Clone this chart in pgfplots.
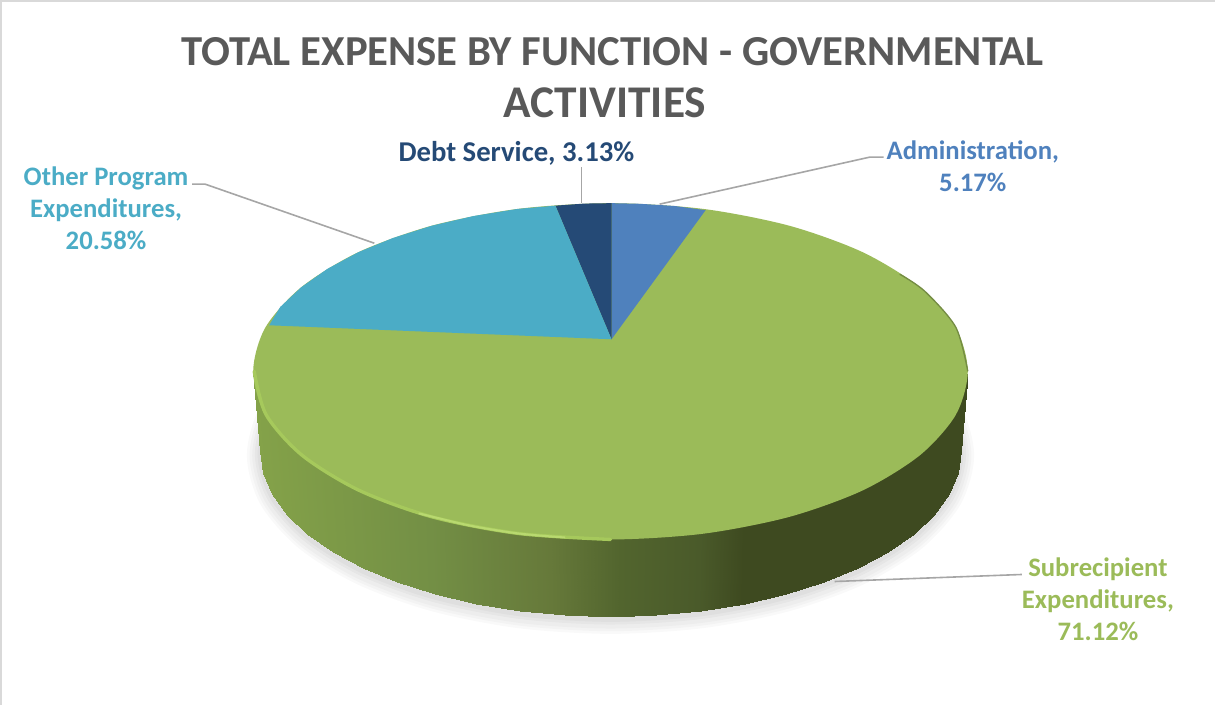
\documentclass[border=0pt]{standalone}
\usepackage{fontspec}
\setmainfont{Carlito}
\usepackage{pgfplots}
\usepackage{pgfplotstable}
\pgfplotsset{compat=1.18}

\definecolor{cadmin}{HTML}{4F81BD}
\definecolor{cgreen}{HTML}{9BBB59}
\definecolor{cother}{HTML}{4BACC6}
\definecolor{cdebt}{HTML}{254A76}
\definecolor{ctitle}{HTML}{595959}
\definecolor{clead}{HTML}{A6A6A6}
\definecolor{crim}{HTML}{A6C95C}
\definecolor{crimhi}{HTML}{B9D970}

% outlines, in pixels
\pgfplotstableread{
x y
968 372
956 415.5
920 456
863 491
789.5 517.5
703.4 534.3
611 540
518.6 534.3
432.5 517.5
359 491
302 456
266 415.5
254 372
266 328.5
302 288
359 253
432.5 226.5
518.6 209.7
611 204
703.4 209.7
789.5 226.5
863 253
920 288
956 328.5
}\toprim

\pgfplotstableread{
x y
961 452
949 494.7
914 534.5
858.5 568.7
786 594.9
701.6 611.4
611 617
520.4 611.4
436 594.9
363.5 568.7
308 534.5
273 494.7
261 452
273 409
308 370
363.5 335
436 309
520.4 292.6
611 287
701.6 292.6
786 309
858.5 335
914 370
949 409
}\bottomrim

% side of the pie: upper row, then lower row; c runs along the colormap
\pgfplotstableread{
x y c
254 372 254
257.2 389 257
266 410.5 266
281.1 431.3 281
302 451 302
327.9 469.3 328
358.6 485.8 359
393.6 500.2 394
432.5 512.5 432
474.3 522.2 474
518.6 529.3 519
564.2 533.5 564
611 535 611
657.8 533.5 658
703.4 529.3 703
747.7 522.2 748
789.5 512.5 790
828.4 500.2 828
863.4 485.8 863
894.1 469.3 894
920 451 920
940.9 431.3 941
956 410.5 956
964.8 389 965
968 372 968
261 452 254
264.1 473.6 257
273 494.7 266
287.6 515.2 281
308 534.5 302
333.4 552.5 328
363.5 568.7 359
397.8 582.8 394
436 594.9 432
476.9 604.5 474
520.4 611.4 519
565.1 615.5 564
611 617 611
656.9 615.5 658
701.6 611.4 703
745.1 604.5 748
786 594.9 790
824.2 582.8 828
858.5 568.7 863
888.6 552.5 894
914 534.5 920
934.4 515.2 941
949 494.7 956
957.9 473.6 965
961 452 968
}\sidemesh

\begin{document}
\begin{tikzpicture}
\begin{axis}[
  scale only axis,
  width=911.25pt,
  height=531pt,
  xmin=0, xmax=1215,
  ymin=-3, ymax=705,
  y dir=reverse,
  hide axis,
  clip=true,
  colormap={side}{
    rgb255(254)=(132,162,73)
    rgb255(430)=(115,143,69)
    rgb255(550)=(102,121,58)
    rgb255(620)=(82,101,46)
    rgb255(700)=(74,90,42)
    rgb255(745)=(62,74,32)
    rgb255(968)=(62,74,32)},
]
% frame of the screenshot
\addplot[draw=black!15, line width=1.5pt] coordinates {(2,705) (2,2) (1215,2)};

% soft shadow
\addplot[smooth cycle, draw=black, draw opacity=.022, line width=20pt, yshift=-3pt] table {\bottomrim};
\addplot[smooth cycle, draw=black, draw opacity=.025, line width=16pt, yshift=-3pt] table {\bottomrim};
\addplot[smooth cycle, draw=black, draw opacity=.025, line width=12pt, yshift=-3pt] table {\bottomrim};
\addplot[smooth cycle, draw=black, draw opacity=.03, line width=8pt, yshift=-2pt] table {\bottomrim};
\addplot[smooth cycle, draw=black, draw opacity=.03, line width=4pt, yshift=-2pt] table {\bottomrim};

% side
\addplot[surf, shader=interp, mesh/rows=2, point meta=\thisrow{c},
  point meta min=254, point meta max=968] table {\sidemesh};

% top face
\addplot[smooth cycle, fill=cgreen, draw=none] table {\toprim};

% rim light and shade
\addplot[smooth, draw=crim, line width=2.5pt, line cap=round] coordinates {
  (255,372) (267,415.5) (303,456) (360,491) (433,517.5) (519,534) (611,540)};
\addplot[smooth, draw=crimhi, line width=1.5pt, line cap=round] coordinates {
  (420,514) (470,526) (519,534) (565,538)};
\addplot[smooth, draw=black!25!cgreen, line width=1pt] coordinates {
  (900,275) (925,292) (956,328) (968,372)};

% wedges
\addplot[fill=cadmin, draw=none] coordinates {
  (612,340) (612,204) (640,204.6) (675,206.8) (706,211)} -- cycle;
\addplot[fill=cdebt, draw=none] coordinates {
  (612,340) (556,206.5) (585,204.4) (612,204)} -- cycle;
\addplot[fill=cother, draw=none] coordinates {
  (612,340) (270,326) (281,307.7) (302,288) (328,269.7) (359,253) (393.6,238.8)
  (432.5,226.5) (474.3,216.8) (518.6,209.7) (556,206.5)} -- cycle;

% leader lines
\addplot[draw=clead, line width=1.2pt] coordinates {(582,168) (582,204)};
\addplot[draw=clead, line width=1.2pt] coordinates {(193,185) (206,185) (375,244)};
\addplot[draw=clead, line width=1.2pt] coordinates {(884,158) (870,158) (660,205)};
\addplot[draw=clead, line width=1.2pt] coordinates {(835,582) (1022,575)};

% title
\node[text=ctitle, font=\fontsize{32}{38}\selectfont\bfseries, anchor=center] at (axis cs:613,53) {TOTAL EXPENSE BY FUNCTION - GOVERNMENTAL};
\node[text=ctitle, font=\fontsize{34}{38}\selectfont\bfseries, anchor=center] at (axis cs:605.5,103.5) {ACTIVITIES};

% data labels
\tikzset{lab/.style={font=\fontsize{20}{24}\selectfont\bfseries, align=center, anchor=center}}
\node[lab, text=cdebt, font=\fontsize{21.5}{24}\selectfont\bfseries] at (axis cs:517,154) {Debt Service, 3.13\%};
\node[lab, text=cadmin] at (axis cs:973,167.5) {Administration,\\5.17\%};
\node[lab, text=cother] at (axis cs:107,209) {Other Program\\Expenditures,\\20.58\%};
\node[lab, text=cgreen] at (axis cs:1098,600) {Subrecipient\\Expenditures,\\71.12\%};
\end{axis}
\end{tikzpicture}
\end{document}
